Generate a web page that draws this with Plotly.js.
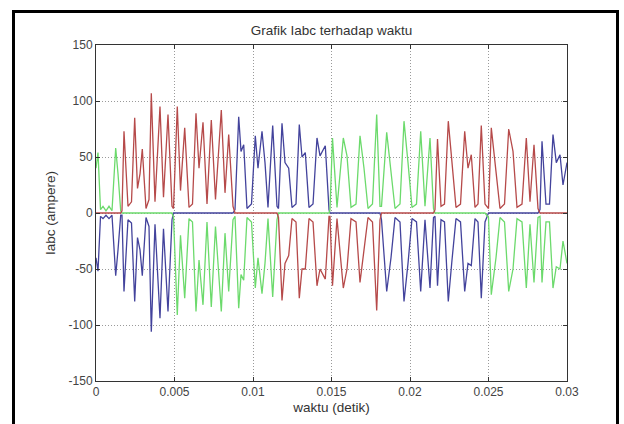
<!DOCTYPE html>
<html>
<head>
<meta charset="utf-8">
<script src="https://cdn.plot.ly/plotly-3.0.1.min.js"></script>
<style>
  html, body { margin:0; padding:0; background:#fff; }
  #wrap { position:relative; width:624px; height:424px; overflow:hidden; }
  #chart { position:absolute; left:0; top:0; width:624px; height:424px; }
  #frame { position:absolute; left:12px; top:10px; width:607px; height:460px; border:3px solid #000; box-sizing:border-box; pointer-events:none; }
</style>
</head>
<body>
<div id="wrap">
  <div id="chart"></div>
  <div id="frame"></div>
</div>
<script>
// waktu (detik)
const t = [
  0, 0.000127, 0.000287, 0.000446, 0.000637, 0.000828, 0.001019, 0.001255, 0.001401, 0.001573,
  0.001656, 0.001783, 0.002038, 0.002261, 0.002465, 0.002643, 0.002803, 0.002949, 0.003185, 0.003376,
  0.003522, 0.003758, 0.004076, 0.004299, 0.004586, 0.004841, 0.004936, 0.005178, 0.005382, 0.005650,
  0.005924, 0.006146, 0.006369, 0.006561, 0.006815, 0.007070, 0.007344, 0.007611, 0.007981, 0.008217,
  0.008452, 0.008726, 0.008854, 0.009089, 0.009236, 0.009408, 0.009618, 0.009904, 0.010146, 0.010318,
  0.010573, 0.010764, 0.010955, 0.011255, 0.011529, 0.011624, 0.011847, 0.012038, 0.012274, 0.012484,
  0.012739, 0.012949, 0.013121, 0.013331, 0.013567, 0.013822, 0.014076, 0.014268, 0.014605, 0.014841,
  0.014904, 0.015064, 0.015350, 0.015752, 0.015987, 0.016242, 0.016561, 0.016815, 0.017070, 0.017325,
  0.017611, 0.017879, 0.018089, 0.018185, 0.018516, 0.018790, 0.019045, 0.019363, 0.019618, 0.019873,
  0.020127, 0.020414, 0.020682, 0.020955, 0.021274, 0.021497, 0.021592, 0.021752, 0.021975, 0.022197,
  0.022439, 0.022675, 0.022930, 0.023217, 0.023484, 0.023694, 0.023904, 0.024140, 0.024331, 0.024541,
  0.024777, 0.025000, 0.025178, 0.025478, 0.025732, 0.026019, 0.026287, 0.026561, 0.026815, 0.027134,
  0.027408, 0.027643, 0.027898, 0.028153, 0.028280, 0.028408, 0.028662, 0.028885, 0.029108, 0.029318,
  0.029554, 0.029745, 0.030000
];
// Ia (biru)
const ia = [
  -40,-52,-3,-5,-2,-5,-2,-56,-33,-2,
  -2,-70,-6,-9,-79,-22,-33,-56,-4,-12,
  -106,-10,-94,-14,-88,-6,0,0,0,0,
  0,0,0,0,0,0,0,0,0,0,
  0,0,3,86,55,61,4,8,69,40,
  73,45,5,78,6,4,80,45,40,5,
  8,79,50,54,5,8,67,51,60,3,
  0,0,0,0,0,0,0,0,0,0,
  0,0,0,-6,-70,-40,-4,-8,-79,-45,
  -5,-8,-70,-6,-67,-4,-3,-65,-6,-8,
  -79,-42,-5,-8,-70,-45,-47,-5,-8,-76,
  -8,0,0,0,0,0,0,0,0,0,
  0,0,0,0,3,64,8,8,70,45,
  52,25,45
];
// Ib (hijau)
const ib = [
  40,54,3,6,2,6,2,58,35,2,
  0,0,0,0,0,0,0,0,0,0,
  0,0,0,0,0,0,-4,-91,-20,-76,
  -5,-8,-88,-42,-82,-8,-84,-12,-88,-18,
  -70,-6,-3,-85,-55,-60,-4,-8,-67,-40,
  -72,-45,-5,-75,-6,0,0,0,0,0,
  0,0,0,0,0,0,0,0,0,0,
  3,67,5,67,51,5,8,69,40,4,
  8,88,6,6,72,36,4,8,82,45,
  5,8,73,6,67,4,0,0,0,0,
  0,0,0,0,0,0,0,0,0,0,
  0,-4,-73,-40,-4,-8,-70,-50,-5,-8,
  -67,-10,-62,-4,-3,-62,-8,-8,-67,-48,
  -50,-25,-45
];
// Ic (merah)
const ic = [
  0,0,0,0,0,0,0,0,0,0,
  2,73,6,10,85,22,35,57,4,12,
  107,10,95,14,88,6,4,95,20,76,
  5,8,89,40,81,8,83,12,92,18,
  70,6,0,0,0,0,0,0,0,0,
  0,0,0,0,0,-4,-78,-45,-38,-5,
  -8,-76,-50,-50,-5,-8,-65,-50,-59,-3,
  -3,-65,-5,-67,-50,-5,-8,-62,-32,-4,
  -8,-87,-6,0,0,0,0,0,0,0,
  0,0,0,0,0,0,3,66,6,8,
  82,45,5,8,73,40,52,5,8,78,
  8,4,76,37,4,8,75,55,5,8,
  67,10,61,4,0,0,0,0,0,0,
  0,0,0
];
const xTicks = [0, 0.005, 0.01, 0.015, 0.02, 0.025, 0.03];
const xTickText = ['0', '0.005', '0.01', '0.015', '0.02', '0.025', '0.03'];
const yTicks = [-150, -100, -50, 0, 50, 100, 150];
const yTickText = ['-150', '-100', '-50', '0', '50', '100', '150'];

const traces = [
  {x: t, y: ia, mode: 'lines', line: {color: '#43439c', width: 1.3}, hoverinfo: 'skip'},
  {x: t, y: ib, mode: 'lines', line: {color: '#6cda6c', width: 1.3}, hoverinfo: 'skip'},
  {x: t, y: ic, mode: 'lines', line: {color: '#b64a4a', width: 1.3}, hoverinfo: 'skip'}
];

const axisCommon = {
  ticks: 'inside', ticklen: 4, tickwidth: 1, tickcolor: '#333',
  showline: true, linecolor: '#333', linewidth: 1, mirror: 'allticks',
  showgrid: true, gridcolor: '#9a9a9a', gridwidth: 1, griddash: '1px,2px',
  zeroline: false, tickfont: {size: 12, color: '#444'}
};

const layout = {
  width: 624, height: 424,
  margin: {l: 96, r: 57, t: 45, b: 43},
  paper_bgcolor: '#ffffff', plot_bgcolor: '#ffffff',
  showlegend: false,
  font: {family: '"Liberation Sans", Arial, Helvetica, sans-serif', color: '#333', size: 12},
  title: {text: 'Grafik Iabc terhadap waktu', font: {size: 13.5, color: '#333'},
          x: 0.5, xref: 'paper', xanchor: 'center', y: 1 - 30/424, yref: 'container', yanchor: 'middle'},
  xaxis: Object.assign({}, axisCommon, {
    range: [0, 0.03], tickvals: xTicks, ticktext: xTickText,
    title: {text: 'waktu (detik)', font: {size: 13.5, color: '#333'}, standoff: 4}
  }),
  yaxis: Object.assign({}, axisCommon, {
    range: [-150, 150], tickvals: yTicks, ticktext: yTickText
  }),
  annotations: [{
    text: 'Iabc (ampere)', textangle: -90, showarrow: false,
    xref: 'paper', yref: 'paper', x: (50 - 96) / 471, y: 0.5,
    xanchor: 'center', yanchor: 'middle',
    font: {size: 13.5, color: '#333'}
  }]
};

Plotly.newPlot('chart', traces, layout, {staticPlot: true, displayModeBar: false});
</script>
</body>
</html>
